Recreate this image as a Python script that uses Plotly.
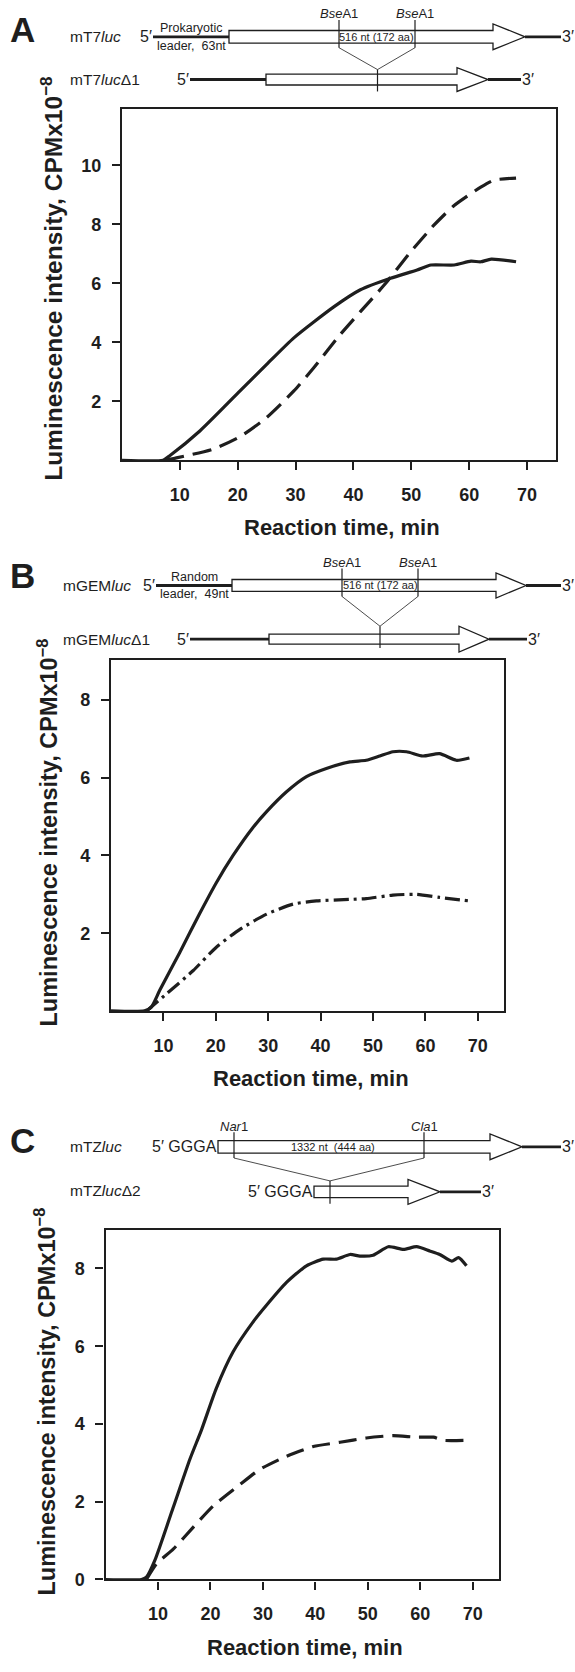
import plotly.graph_objects as go

# ---------------- data ----------------
x_ticks = [10, 20, 30, 40, 50, 60, 70]
a_yticks = [2, 4, 6, 8, 10]
b_yticks = [2, 4, 6, 8]
c_yticks = [0, 2, 4, 6, 8]

a_time_wt = [0, 7.1, 8.3, 13.5, 20.4, 25, 29.7, 36.6, 41.2, 46.4, 51, 53.4, 57.4, 60.3, 62, 63.8, 68.1]
a_lum_wt = [0, 0, 0.16, 1.0, 2.35, 3.25, 4.15, 5.2, 5.78, 6.17, 6.45, 6.62, 6.62, 6.75, 6.73, 6.82, 6.73]
a_time_del = [7.5, 9.4, 15.8, 20.4, 25, 29.7, 33.1, 37.7, 41.2, 45.3, 49.9, 53.9, 57.4, 62, 64.3, 68.1]
a_lum_del = [0, 0.08, 0.38, 0.8, 1.45, 2.35, 3.13, 4.26, 5.04, 5.94, 7.07, 7.97, 8.64, 9.26, 9.5, 9.57]

b_time_wt = [0, 6.4, 7.7, 9.3, 13.1, 16.9, 20.1, 23.3, 27.1, 29.7, 33.5, 37.3, 41.1, 45.6, 48.7, 51.3, 53.8, 56.4, 59.5, 62.7, 65.9, 68.4]
b_lum_wt = [0, 0, 0.1, 0.53, 1.5, 2.5, 3.3, 4.0, 4.72, 5.13, 5.64, 6.03, 6.24, 6.41, 6.45, 6.56, 6.67, 6.67, 6.56, 6.62, 6.45, 6.51]
b_time_del = [6.8, 10.6, 15.7, 20.1, 24.6, 29.7, 34.8, 39.2, 45.6, 48.7, 53.8, 58.3, 62.7, 68.4]
b_lum_del = [0, 0.44, 1.04, 1.64, 2.1, 2.49, 2.75, 2.83, 2.87, 2.89, 2.98, 3.0, 2.92, 2.83]

c_time_wt = [0, 6.85, 7.8, 9.4, 12.9, 16.1, 18.3, 21.1, 24.3, 28.1, 30.6, 34.5, 38.3, 41.5, 44, 46.6, 48.5, 51, 53.9, 56.8, 59.3, 61.8, 63.7, 66, 67.3, 68.8]
c_lum_wt = [0, 0, 0.06, 0.49, 1.85, 3.1, 3.85, 4.91, 5.85, 6.62, 7.04, 7.64, 8.07, 8.24, 8.24, 8.36, 8.32, 8.34, 8.56, 8.49, 8.56, 8.45, 8.36, 8.19, 8.28, 8.07]
c_time_del = [7.8, 9.7, 12.9, 16.7, 20.5, 25.6, 29.4, 34.5, 39.6, 44.7, 49.7, 54.8, 59.3, 62.5, 64.4, 68.8]
c_lum_del = [0, 0.4, 0.78, 1.34, 1.89, 2.44, 2.83, 3.17, 3.42, 3.53, 3.64, 3.7, 3.66, 3.66, 3.58, 3.58]

# ---------------- layout helpers ----------------
W, H = 575, 1672
FONT = "Liberation Sans, Arial, Helvetica, sans-serif"
INK = "#1e1e1e"


def X(px):
    return px / W


def Y(py):
    return 1 - py / H


fig = go.Figure()

LW = 3.2
fig.add_trace(go.Scatter(x=a_time_wt, y=a_lum_wt, mode="lines", xaxis="x", yaxis="y",
                         line=dict(color=INK, width=LW, shape="spline", smoothing=0.6)))
fig.add_trace(go.Scatter(x=a_time_del, y=a_lum_del, mode="lines", xaxis="x", yaxis="y",
                         line=dict(color=INK, width=LW, dash="19px,9px", shape="spline", smoothing=0.6)))
fig.add_trace(go.Scatter(x=b_time_wt, y=b_lum_wt, mode="lines", xaxis="x2", yaxis="y2",
                         line=dict(color=INK, width=LW, shape="spline", smoothing=0.6)))
fig.add_trace(go.Scatter(x=b_time_del, y=b_lum_del, mode="lines", xaxis="x2", yaxis="y2",
                         line=dict(color=INK, width=LW, dash="15px,5px,3px,5px", shape="spline", smoothing=0.6)))
fig.add_trace(go.Scatter(x=c_time_wt, y=c_lum_wt, mode="lines", xaxis="x3", yaxis="y3",
                         line=dict(color=INK, width=LW, shape="spline", smoothing=0.6)))
fig.add_trace(go.Scatter(x=c_time_del, y=c_lum_del, mode="lines", xaxis="x3", yaxis="y3",
                         line=dict(color=INK, width=LW, dash="18px,9px", shape="spline", smoothing=0.6)))

tickfont = dict(family=FONT, size=18, color=INK, weight="bold")


def xaxis(left, right, anchor):
    return dict(domain=[X(left), X(right)], range=[0, 75], tickvals=x_ticks, ticks="outside",
                ticklen=8, tickwidth=2, tickcolor=INK, showline=True, linewidth=2.4, linecolor=INK,
                mirror=True, showgrid=False, zeroline=False, tickfont=tickfont,
                ticklabelstandoff=9, anchor=anchor)


def yaxis(top, bottom, ymax, tv, anchor):
    return dict(domain=[Y(bottom), Y(top)], range=[0, ymax], tickvals=tv, ticks="outside",
                ticklen=8, tickwidth=2, tickcolor=INK, showline=True, linewidth=2.4, linecolor=INK,
                mirror=True, showgrid=False, zeroline=False, tickfont=tickfont,
                ticklabelstandoff=7, anchor=anchor)


panels = [
    # left, right, top, bottom, ymax, yticks, ytitle x, ytitle size, ytitle shift
    (122, 556, 110, 463, 11.9, a_yticks, 52, 24.5, -6),
    (111, 504, 664, 1017, 9.03, b_yticks, 48, 23.5, -3),
    (105.5, 499, 1237, 1589, 9.0, c_yticks, 45, 23.5, -3),
]

layout = dict(width=W, height=H, margin=dict(l=0, r=0, t=0, b=0), showlegend=False,
              plot_bgcolor="white", paper_bgcolor="white")
ann = []
shapes = []
for i, (l, r, t, b, ymax, tv, ytx, yts, ysh) in enumerate(panels):
    sfx = "" if i == 0 else str(i + 1)
    layout["xaxis" + sfx] = xaxis(l, r, "y" + sfx)
    layout["yaxis" + sfx] = yaxis(t, b, ymax, tv, "x" + sfx)
    ann.append(dict(text="Reaction time, min", x=X((l + r) / 2 + 3), y=Y(b + 68),
                    xref="paper", yref="paper", showarrow=False, xanchor="center", yanchor="middle",
                    font=dict(family=FONT, size=22, color=INK, weight="bold")))
    ann.append(dict(text="Luminescence intensity, CPMx10<sup>\u22128</sup>", x=X(ytx), y=Y((t + b) / 2 + ysh),
                    xref="paper", yref="paper", showarrow=False, textangle=-90,
                    xanchor="center", yanchor="middle",
                    font=dict(family=FONT, size=yts, color=INK, weight="bold")))


def text(s, x, y, size=15.5, anchor="left", bold=False):
    ann.append(dict(text=s, x=X(x), y=Y(y), xref="paper", yref="paper", showarrow=False,
                    xanchor=anchor, yanchor="middle", borderpad=0,
                    font=dict(family=FONT, size=size, color=INK, weight="bold" if bold else "normal")))


def line(x0, y0, x1, y1, w=1.2):
    shapes.append(dict(type="line", xref="paper", yref="paper", x0=X(x0), y0=Y(y0), x1=X(x1), y1=Y(y1),
                       line=dict(color=INK, width=w)))


def arrow(x0, xb, xt, yc, bh, hh):
    p = (f"M {X(x0)},{Y(yc - bh)} L {X(xb)},{Y(yc - bh)} L {X(xb)},{Y(yc - hh)} "
         f"L {X(xt)},{Y(yc)} L {X(xb)},{Y(yc + hh)} L {X(xb)},{Y(yc + bh)} L {X(x0)},{Y(yc + bh)} Z")
    shapes.append(dict(type="path", xref="paper", yref="paper", path=p,
                       line=dict(color=INK, width=1.3), fillcolor="white"))


SMALL = 12.5
END = 16

# ---------- panel A diagram ----------
text("A", 22, 30, size=35, anchor="center", bold=True)
text("mT7<i>luc</i>", 69, 37)
text("5\u2032", 153, 37, size=END, anchor="right")
line(153, 37, 229, 37, 2.8)
text("Prokaryotic", 191, 28, size=SMALL, anchor="center")
text("leader,  63nt", 191, 46, size=SMALL, anchor="center")
arrow(229, 493, 525, 37, 6.3, 13)
line(525, 37, 561, 37, 2.8)
text("3\u2032", 561, 37, size=END, anchor="left")
for sx in (339, 415):
    line(sx, 20, sx, 48, 1.2)
    text("<i>Bse</i>A1", sx, 14, size=13, anchor="center")
    line(sx, 48, 377.5, 70, 0.8)
text("516 nt (172 aa)", 377, 37, size=11, anchor="center")
text("mT7<i>luc</i>\u03941", 69, 80)
text("5\u2032", 190, 80, size=END, anchor="right")
line(190, 80, 266, 80, 2.8)
arrow(266, 457, 488, 80, 5.5, 12)
line(488, 80, 521, 80, 2.8)
text("3\u2032", 521, 80, size=END, anchor="left")
line(377.5, 70, 377.5, 92, 1.2)

# ---------- panel B diagram ----------
text("B", 22, 579, size=35, anchor="center", bold=True)
text("mGEM<i>luc</i>", 62, 589)
text("5\u2032", 156, 589, size=END, anchor="right")
line(156, 589, 232, 589, 2.8)
text("Random", 194, 580, size=SMALL, anchor="center")
text("leader,  49nt", 194, 598, size=SMALL, anchor="center")
arrow(232, 496, 526, 589, 6.0, 12.6)
line(526, 589, 561, 589, 2.8)
text("3\u2032", 561, 589, size=END, anchor="left")
for sx in (342, 418):
    line(sx, 572, sx, 600, 1.2)
    text("<i>Bse</i>A1", sx, 566, size=13, anchor="center")
    line(sx, 600, 380, 630, 0.8)
text("516 nt (172 aa)", 380, 589, size=11, anchor="center")
text("mGEM<i>luc</i>\u03941", 62, 643)
text("5\u2032", 190, 643, size=END, anchor="right")
line(190, 643, 269, 643, 2.8)
arrow(269, 459, 489, 643, 5.0, 13)
line(489, 643, 527, 643, 2.8)
text("3\u2032", 527, 643, size=END, anchor="left")
line(380, 630, 380, 652, 1.2)

# ---------- panel C diagram ----------
text("C", 22, 1147, size=35, anchor="center", bold=True)
text("mTZ<i>luc</i>", 69, 1153)
text("5\u2032 GGGA", 218, 1153, size=END, anchor="right")
arrow(218, 490, 522, 1153.7, 6.3, 13)
line(522, 1153.7, 561, 1153.7, 2.8)
text("3\u2032", 561, 1153, size=END, anchor="left")
text("<i>Nar</i>1", 234, 1133, size=13, anchor="center")
text("<i>Cla</i>1", 424, 1133, size=13, anchor="center")
for sx in (234, 424):
    line(sx, 1139, sx, 1165, 1.2)
    line(sx, 1165, 330, 1188, 0.8)
text("1332 nt  (444 aa)", 333, 1154, size=11, anchor="center")
text("mTZ<i>luc</i>\u03942", 69, 1198)
text("5\u2032 GGGA", 314, 1199, size=END, anchor="right")
arrow(314, 408, 440, 1199, 5.8, 12.5)
line(440, 1199, 481, 1199, 2.8)
text("3\u2032", 481, 1199, size=END, anchor="left")
line(330, 1188, 330, 1211, 1.2)

layout["annotations"] = ann
layout["shapes"] = shapes
fig.update_layout(**layout)
fig.write_html("out.html")
